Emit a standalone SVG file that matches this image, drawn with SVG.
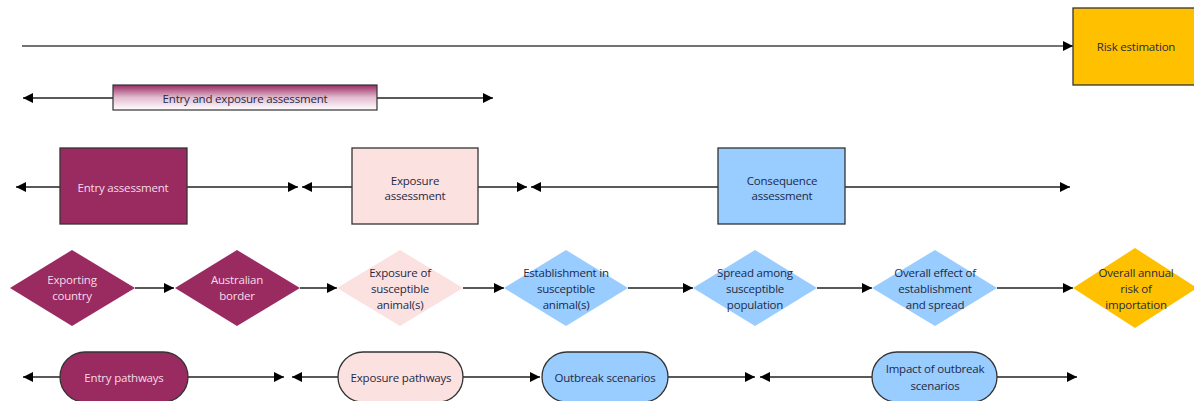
<svg xmlns="http://www.w3.org/2000/svg" width="1194" height="401" viewBox="0 0 1194 401">
<defs>
<marker id="ah" viewBox="0 0 10 10" refX="10" refY="5" markerWidth="11" markerHeight="10" markerUnits="userSpaceOnUse" orient="auto">
<path d="M0,0 L10,5 L0,10 Z" fill="#000"/>
</marker>
<linearGradient id="grad" x1="0" y1="0" x2="0" y2="1">
<stop offset="0" stop-color="#9a2b61"/>
<stop offset="0.5" stop-color="#e2bcd0"/>
<stop offset="1" stop-color="#ffffff"/>
</linearGradient>
<style>
text{font-family:"Open Sans","DejaVu Sans",sans-serif;font-size:11.5px;text-anchor:middle;dominant-baseline:central;fill:#1f2a44;letter-spacing:-0.2px}
.lt{fill:#f6dbe8}
.box{stroke:#333;stroke-width:1.3}
.mag{fill:#9a2b61}
.pink{fill:#fce1e1}
.blue{fill:#99ccff}
.gold{fill:#ffc000}
.ln{stroke:#222;stroke-width:1.3;fill:none;marker-end:url(#ah)}
.top{stroke:#444;stroke-width:1.6;fill:none;marker-end:url(#ah)}
</style>
</defs>
<rect width="1194" height="401" fill="#fff"/>
<g id="connectors">
<line class="top" x1="22" y1="46" x2="1073" y2="46"/>
<line class="ln" x1="113" y1="98" x2="23" y2="98"/>
<line class="ln" x1="377" y1="98" x2="493" y2="98"/>
<line class="ln" x1="60" y1="187" x2="16" y2="187"/>
<line class="ln" x1="187" y1="187" x2="298" y2="187"/>
<line class="ln" x1="352" y1="187" x2="302" y2="187"/>
<line class="ln" x1="478" y1="187" x2="527" y2="187"/>
<line class="ln" x1="718" y1="187" x2="531" y2="187"/>
<line class="ln" x1="845" y1="187" x2="1070" y2="187"/>
<line class="ln" x1="135" y1="288" x2="174" y2="288"/>
<line class="ln" x1="300" y1="288" x2="337" y2="288"/>
<line class="ln" x1="463" y1="288" x2="504" y2="288"/>
<line class="ln" x1="628" y1="288" x2="693" y2="288"/>
<line class="ln" x1="817" y1="288" x2="872" y2="288"/>
<line class="ln" x1="997" y1="288" x2="1073" y2="288"/>
<line class="ln" x1="60" y1="377" x2="23" y2="377"/>
<line class="ln" x1="188" y1="377" x2="284" y2="377"/>
<line class="ln" x1="338" y1="377" x2="292" y2="377"/>
<line class="ln" x1="463" y1="377" x2="540" y2="377"/>
<line class="ln" x1="668" y1="377" x2="755" y2="377"/>
<line class="ln" x1="872" y1="377" x2="760" y2="377"/>
<line class="ln" x1="997" y1="377" x2="1077" y2="377"/>
</g>
<g id="risk-estimation">
<rect class="box gold" x="1073" y="8" width="125" height="77"/>
<text x="1136" y="46">Risk estimation</text>
</g>
<g id="entry-exposure-assessment">
<rect x="113" y="85" width="264" height="25" fill="url(#grad)" stroke="#333" stroke-width="1.2"/>
<text x="245" y="98">Entry and exposure assessment</text>
</g>
<g id="entry-assessment">
<rect class="box mag" x="60" y="148" width="127" height="76"/>
<text class="lt" x="123" y="187">Entry assessment</text>
</g>
<g id="exposure-assessment">
<rect class="box pink" x="352" y="148" width="126" height="76"/>
<text x="415" y="180">Exposure</text>
<text x="415" y="195">assessment</text>
</g>
<g id="consequence-assessment">
<rect class="box blue" x="718" y="148" width="127" height="76"/>
<text x="782" y="180">Consequence</text>
<text x="782" y="195">assessment</text>
</g>
<g id="exporting-country">
<polygon class="mag" points="10,288 72,250 135,288 72,326"/>
<text class="lt" x="72" y="279">Exporting</text>
<text class="lt" x="72" y="295">country</text>
</g>
<g id="australian-border">
<polygon class="mag" points="175,288 237,250 300,288 237,326"/>
<text class="lt" x="237" y="279">Australian</text>
<text class="lt" x="237" y="295">border</text>
</g>
<g id="exposure-animals">
<polygon class="pink" points="337,288 400,250 463,288 400,326"/>
<text x="400" y="272">Exposure of</text>
<text x="400" y="288">susceptible</text>
<text x="400" y="304">animal(s)</text>
</g>
<g id="establishment">
<polygon class="blue" points="504,288 566,250 628,288 566,326"/>
<text x="566" y="272">Establishment in</text>
<text x="566" y="288">susceptible</text>
<text x="566" y="304">animal(s)</text>
</g>
<g id="spread">
<polygon class="blue" points="693,288 755,250 817,288 755,326"/>
<text x="755" y="272">Spread among</text>
<text x="755" y="288">susceptible</text>
<text x="755" y="304">population</text>
</g>
<g id="overall-effect">
<polygon class="blue" points="872,288 935,250 997,288 935,326"/>
<text x="935" y="272">Overall effect of</text>
<text x="935" y="288">establishment</text>
<text x="935" y="304">and spread</text>
</g>
<g id="overall-annual-risk">
<polygon class="gold" points="1073,288 1135,248 1197,288 1135,328"/>
<text x="1136" y="272">Overall annual</text>
<text x="1136" y="288">risk of</text>
<text x="1136" y="304">importation</text>
</g>
<g id="entry-pathways">
<rect class="box mag" x="60" y="352" width="128" height="50" rx="25"/>
<text class="lt" x="124" y="377">Entry pathways</text>
</g>
<g id="exposure-pathways">
<rect class="box pink" x="338" y="352" width="125" height="50" rx="25"/>
<text x="401" y="377">Exposure pathways</text>
</g>
<g id="outbreak-scenarios">
<rect class="box blue" x="542" y="352" width="126" height="50" rx="25"/>
<text x="605" y="377">Outbreak scenarios</text>
</g>
<g id="impact-outbreak">
<rect class="box blue" x="872" y="352" width="125" height="50" rx="25"/>
<text x="935" y="368">Impact of outbreak</text>
<text x="935" y="385">scenarios</text>
</g>
</svg>
